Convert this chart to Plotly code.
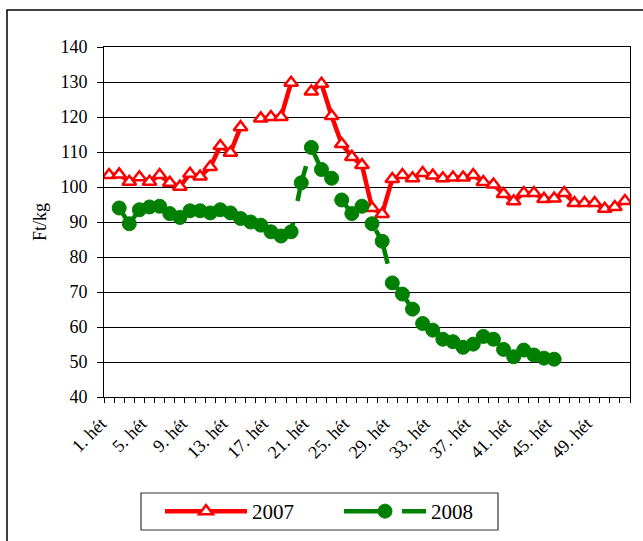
import plotly.graph_objects as go

weeks = list(range(1, 53))
tick_weeks = list(range(1, 53, 4))
tick_labels = [f"{w}. hét" for w in tick_weeks]

prices_2007 = [103.4, 103.6, 101.5, 102.8, 101.5, 103.4, 101.2, 100.1, 103.8, 103.0,
               105.7, 111.7, 109.8, 117.1, None, 119.6, 120.0, 120.0, 129.8, None,
               127.3, 129.5, 120.3, 112.3, 108.6, 106.3, 94.0, 92.3, 102.3, 103.4,
               102.5, 104.0, 103.3, 102.5, 102.7, 102.7, 103.4, 101.4, 100.7, 98.0,
               95.9, 98.3, 98.3, 96.6, 96.7, 98.3, 95.4, 95.4, 95.4, 93.8,
               94.3, 96.0]

prices_2008 = [None, 94.0, 89.5, 93.5, 94.3, 94.5, 92.4, 91.3, 93.2, 93.2,
               92.6, 93.5, 92.6, 91.0, 90.0, 89.1, 87.2, 86.0, 87.2, 101.2,
               111.3, 105.0, 102.5, 96.3, 92.4, 94.5, 89.5, 84.5, 72.6, 69.4,
               65.1, 61.0, 59.1, 56.5, 55.8, 54.2, 55.1, 57.3, 56.5, 53.6,
               51.5, 53.4, 52.0, 51.1, 50.8, None, None, None, None, None,
               None, None]

FONT = "Liberation Serif, Times New Roman, serif"

fig = go.Figure()
fig.add_trace(go.Scatter(
    x=weeks, y=prices_2007, name="2007", mode="lines+markers",
    connectgaps=False,
    line=dict(color="#FF0000", width=4.5),
    marker=dict(symbol="triangle-up", size=12, color="white",
                line=dict(color="#FF0000", width=2.5)),
))
fig.add_trace(go.Scatter(
    x=weeks, y=prices_2008, name="2008", mode="lines+markers",
    connectgaps=False,
    line=dict(color="#008000", width=4.5, dash="36px,22px"),
    marker=dict(symbol="circle", size=14, color="#008000",
                line=dict(color="#008000", width=1)),
))

L, R, T, B = 104, 13, 47, 144
W, H = 643, 541
pw = W - L - R
ph = H - T - B

def px_x(p):
    return (p - L) / pw

def px_y(p):
    return (H - B - p) / ph

fig.update_layout(
    width=W, height=H,
    margin=dict(l=L, r=R, t=T, b=B, pad=0, autoexpand=False),
    paper_bgcolor="white", plot_bgcolor="white",
    font=dict(family=FONT, color="black", size=17),
    showlegend=True,
    legend=dict(
        orientation="h",
        x=px_x(160), y=px_y(511.5), xanchor="left", yanchor="middle",
        borderwidth=0,
        font=dict(family=FONT, size=21, color="black"),
        itemwidth=82, entrywidth=82,
        bgcolor="rgba(0,0,0,0)",
    ),
    xaxis=dict(
        range=[0.5, 52.5],
        tickmode="array", tickvals=tick_weeks, ticktext=tick_labels,
        tickangle=-45, ticks="", showgrid=False, zeroline=False,
        showline=True, linecolor="black", linewidth=1, mirror=True,
        tickfont=dict(family=FONT, size=18, color="black"),
        ticklabelstandoff=8, ticklabelshift=-8,
        minor=dict(ticks="outside", tickmode="array",
                   tickvals=[w - 0.5 for w in weeks] + [52.5],
                   ticklen=5, tickcolor="black", tickwidth=1, showgrid=False),
    ),
    yaxis=dict(
        range=[40, 140], tickmode="linear", tick0=40, dtick=10,
        ticks="outside", ticklen=6, tickcolor="black",
        showgrid=True, gridcolor="black", gridwidth=1, zeroline=False,
        showline=True, linecolor="black", linewidth=1, mirror=True,
        tickfont=dict(family=FONT, size=18, color="black"),
        ticklabelstandoff=6,
    ),
    annotations=[dict(
        text="Ft/kg", xref="paper", yref="paper",
        x=px_x(40), y=0.5, xanchor="center", yanchor="middle",
        textangle=-90, showarrow=False,
        font=dict(family=FONT, size=18, color="black"),
    )],
    shapes=[
        dict(type="rect", xref="paper", yref="paper",
             x0=px_x(7), x1=px_x(700), y0=px_y(10), y1=px_y(600),
             line=dict(color="black", width=1.5), layer="below"),
        dict(type="rect", xref="paper", yref="paper",
             x0=px_x(141), x1=px_x(498), y0=px_y(493), y1=px_y(530),
             line=dict(color="#333333", width=1.2), layer="below"),
    ],
)

fig.write_html("out.html", config={"displayModeBar": False},
               post_script="document.body.style.margin='0';")
